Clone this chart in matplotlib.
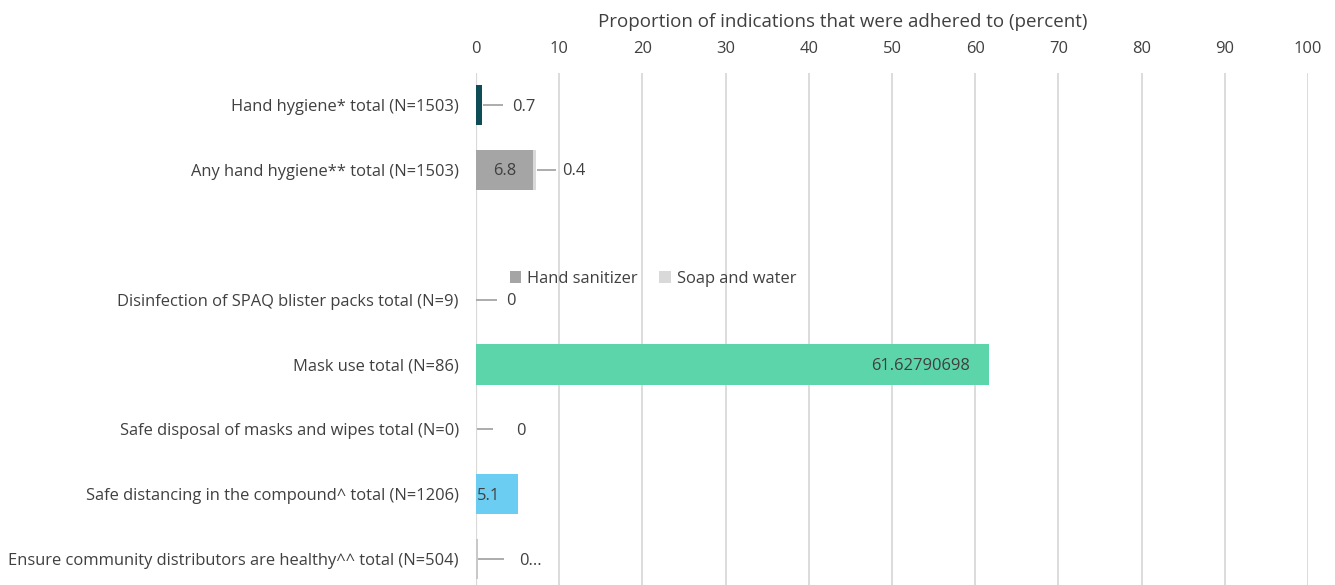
import matplotlib
matplotlib.use("Agg")
import matplotlib.pyplot as plt
from matplotlib.patches import Patch

plt.rcParams['font.family'] = ['Open Sans', 'DejaVu Sans']

TEXT = '#404040'
GRID = '#d9d9d9'
LEADER = '#a6a6a6'

categories = [
    "Hand hygiene* total (N=1503)",
    "Any hand hygiene** total (N=1503)",
    "",
    "Disinfection of SPAQ blister packs total (N=9)",
    "Mask use total (N=86)",
    "Safe disposal of masks and wipes total (N=0)",
    "Safe distancing in the compound^ total (N=1206)",
    "Ensure community distributors are healthy^^ total (N=504)",
]

# single-series rows
single_rows = [0, 3, 4, 5, 6, 7]
single_values = [0.7, 0.0, 61.62790698, 0.0, 5.1, 0.2]
single_colors = ['#0e4d55', '#5cd5ab', '#5cd5ab', '#a6a6a6', '#6bcdf2', '#c8c8c8']
single_labels = ['0.7', '0', '61.62790698', '0', '5.1', '0...']

# stacked row: hand sanitizer + soap and water
stack_row = 1
sanitizer_value = 6.8
soap_value = 0.4
stack_names = ['Hand sanitizer', 'Soap and water']
stack_colors = ['#a5a5a5', '#d9d9d9']

xticks = list(range(0, 101, 10))
xlabel = "Proportion of indications that were adhered to (percent)"

FS = 11.9
DY = 0.025  # nudge data labels down to sit on the bar centre

fig = plt.figure(figsize=(13.35, 5.85), dpi=100)
ax = fig.add_axes([476 / 1335, 0.0, 832 / 1335, 1 - 72.5 / 585])

bar_h = 0.62
ax.barh(single_rows, single_values, height=bar_h, color=single_colors, zorder=3)
ax.barh([stack_row], [sanitizer_value], height=bar_h, color=stack_colors[0], zorder=3)
ax.barh([stack_row], [soap_value], left=[sanitizer_value], height=bar_h,
        color=stack_colors[1], zorder=3)

ax.set_xlim(0, 100)
ax.set_ylim(7.40, -0.5)
ax.set_xticks(xticks)
ax.xaxis.tick_top()
ax.xaxis.set_label_position('top')
ax.set_xlabel(xlabel, fontsize=13.5, color=TEXT, labelpad=10)
ax.xaxis.label.set_x(0.441)
ax.tick_params(axis='x', length=0, labelsize=FS, labelcolor=TEXT, pad=11)
ax.set_yticks(range(len(categories)))
ax.set_yticklabels(categories)
ax.tick_params(axis='y', length=0, labelsize=FS, labelcolor=TEXT, pad=12.5)
ax.grid(axis='x', color=GRID, linewidth=1.3, zorder=0)
ax.axvline(0, color=GRID, linewidth=1.6, zorder=2)
for s in ax.spines.values():
    s.set_visible(False)

# callout labels with short leader lines (offsets in axis units)
callouts = {
    0: (0.1, 2.6, 3.7),
    3: (0.0, 2.5, 3.6),
    5: (0.1, 2.1, 4.8),
    7: (0.1, 3.2, 5.0),
}
for v, r, lab in zip(single_values, single_rows, single_labels):
    if r in callouts:
        a, b, t = callouts[r]
        ax.plot([v + a, v + b], [r, r], color=LEADER, linewidth=1.3, zorder=4,
                solid_capstyle='butt')
        ax.text(v + t, r + DY, lab, va='center', ha='left', fontsize=FS, color=TEXT, zorder=5)
    elif r == 4:
        ax.text(v - 2.2, r + DY, lab, va='center', ha='right', fontsize=FS, color=TEXT, zorder=5)
    elif r == 6:
        ax.text(0.1, r + DY, lab, va='center', ha='left', fontsize=FS, color=TEXT, zorder=5)

total = sanitizer_value + soap_value
ax.text(sanitizer_value / 2, stack_row + DY, f"{sanitizer_value:g}", va='center', ha='center',
        fontsize=FS, color=TEXT, zorder=5)
ax.plot([total + 0.1, total + 2.4], [stack_row, stack_row], color=LEADER,
        linewidth=1.3, zorder=4, solid_capstyle='butt')
ax.text(total + 3.1, stack_row + DY, f"{soap_value:g}", va='center', ha='left',
        fontsize=FS, color=TEXT, zorder=5)

handles = [Patch(facecolor=c, edgecolor='none') for c in stack_colors]
leg = fig.legend(handles, stack_names, loc='center', ncol=2,
                 bbox_to_anchor=(653 / 1335, 1 - 279 / 585), frameon=False,
                 fontsize=FS, handlelength=0.7, handleheight=0.7,
                 handletextpad=0.35, columnspacing=1.3)
for t in leg.get_texts():
    t.set_color(TEXT)

fig.savefig("out.png", dpi=100)
